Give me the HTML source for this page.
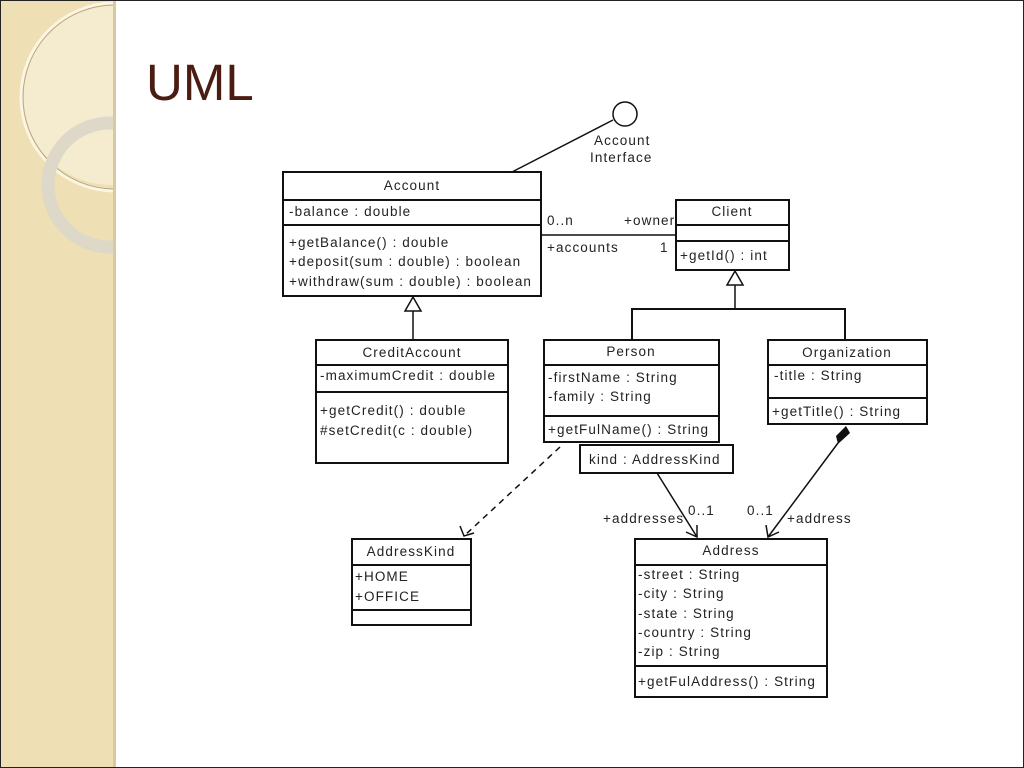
<!DOCTYPE html>
<html><head><meta charset="utf-8"><style>
html,body{margin:0;padding:0;background:#fff}
body{width:1024px;height:768px;overflow:hidden;position:relative}
</style></head><body>
<svg width="1024" height="768" xmlns="http://www.w3.org/2000/svg" style="position:absolute;left:0;top:0">
<defs>
<clipPath id="strip"><rect x="0" y="0" width="113" height="768"/></clipPath>
</defs>
<rect x="0" y="0" width="113" height="768" fill="#efdfb5"/>
<g clip-path="url(#strip)" fill="none">
<circle cx="112" cy="95" r="90" fill="#f5ebcf"/>
<circle cx="115" cy="97" r="94" stroke="#fbf5e4" stroke-width="3"/>
<circle cx="115" cy="97" r="92" stroke="#b8a57c" stroke-width="1"/>
<circle cx="110" cy="185" r="62" stroke="#ddd8c8" stroke-width="13"/>
</g>
<rect x="113" y="0" width="3" height="768" fill="#d8c9a0"/>
<rect x="0" y="0" width="1024" height="768" fill="none" stroke="#222" stroke-width="2"/>
<text x="146" y="100" font-family="Liberation Sans, sans-serif" font-size="51" fill="#4a1c12">UML</text>

<g fill="none" stroke="#111" stroke-width="2">
<rect x="283" y="172" width="258" height="124"/>
<line x1="283" y1="200" x2="541" y2="200"/>
<line x1="283" y1="225" x2="541" y2="225"/>
<rect x="676" y="200" width="113" height="70"/>
<line x1="676" y1="225" x2="789" y2="225"/>
<line x1="676" y1="241" x2="789" y2="241"/>
<rect x="316" y="340" width="192" height="123"/>
<line x1="316" y1="365" x2="508" y2="365"/>
<line x1="316" y1="392" x2="508" y2="392"/>
<rect x="544" y="340" width="175" height="102"/>
<line x1="544" y1="365" x2="719" y2="365"/>
<line x1="544" y1="416" x2="719" y2="416"/>
<rect x="580" y="445" width="153" height="28"/>
<rect x="768" y="340" width="159" height="84"/>
<line x1="768" y1="365" x2="927" y2="365"/>
<line x1="768" y1="398" x2="927" y2="398"/>
<rect x="352" y="539" width="119" height="86"/>
<line x1="352" y1="565" x2="471" y2="565"/>
<line x1="352" y1="610" x2="471" y2="610"/>
<rect x="635" y="539" width="192" height="158"/>
<line x1="635" y1="565" x2="827" y2="565"/>
<line x1="635" y1="666" x2="827" y2="666"/>
</g>
<g fill="none" stroke="#111" stroke-width="1.5">
<line x1="512" y1="172" x2="613" y2="120"/>
<circle cx="625" cy="114" r="12"/>
<line x1="541" y1="235" x2="676" y2="235"/>
<polygon points="413,297 405,311 421,311"/>
<line x1="413" y1="311" x2="413" y2="340"/>
<polygon points="735,271 727,285 743,285"/>
<line x1="735" y1="285" x2="735" y2="309"/>
<polyline points="632,340 632,309 845,309 845,340" stroke-width="2"/>
<line x1="560" y1="447" x2="464" y2="536" stroke-dasharray="6,5"/>
<polyline points="460,526 464,536 474,533"/>
<line x1="657" y1="473" x2="697" y2="537"/>
<polyline points="686,532 697,537 697,525"/>
<line x1="838" y1="443" x2="768" y2="537"/>
<polyline points="766,525 768,537 779,532"/>
</g>
<polygon points="846,426 850,433 838,444 836,436" fill="#111"/>

<g font-family="Liberation Sans, sans-serif" font-size="13.5" fill="#222" letter-spacing="1.1">
<text x="594" y="145">Account</text>
<text x="590" y="162">Interface</text>
<text x="412" y="190" text-anchor="middle">Account</text>
<text x="289" y="216">-balance : double</text>
<text x="289" y="247">+getBalance() : double</text>
<text x="289" y="266">+deposit(sum : double) : boolean</text>
<text x="289" y="286">+withdraw(sum : double) : boolean</text>
<text x="547" y="225">0..n</text>
<text x="624" y="225">+owner</text>
<text x="547" y="252">+accounts</text>
<text x="660" y="252">1</text>
<text x="732" y="216" text-anchor="middle">Client</text>
<text x="680" y="260">+getId() : int</text>
<text x="412" y="357" text-anchor="middle">CreditAccount</text>
<text x="320" y="380">-maximumCredit : double</text>
<text x="320" y="415">+getCredit() : double</text>
<text x="320" y="435">#setCredit(c : double)</text>
<text x="631" y="356" text-anchor="middle">Person</text>
<text x="548" y="382">-firstName : String</text>
<text x="548" y="401">-family : String</text>
<text x="548" y="434">+getFulName() : String</text>
<text x="589" y="464">kind : AddressKind</text>
<text x="847" y="357" text-anchor="middle">Organization</text>
<text x="774" y="380">-title : String</text>
<text x="772" y="416">+getTitle() : String</text>
<text x="688" y="515">0..1</text>
<text x="603" y="523">+addresses</text>
<text x="747" y="515">0..1</text>
<text x="787" y="523">+address</text>
<text x="411" y="556" text-anchor="middle">AddressKind</text>
<text x="355" y="581">+HOME</text>
<text x="355" y="601">+OFFICE</text>
<text x="731" y="555" text-anchor="middle">Address</text>
<text x="638" y="579">-street : String</text>
<text x="638" y="598">-city : String</text>
<text x="638" y="618">-state : String</text>
<text x="638" y="637">-country : String</text>
<text x="638" y="656">-zip : String</text>
<text x="638" y="686">+getFulAddress() : String</text>
</g>
</svg>
</body></html>
